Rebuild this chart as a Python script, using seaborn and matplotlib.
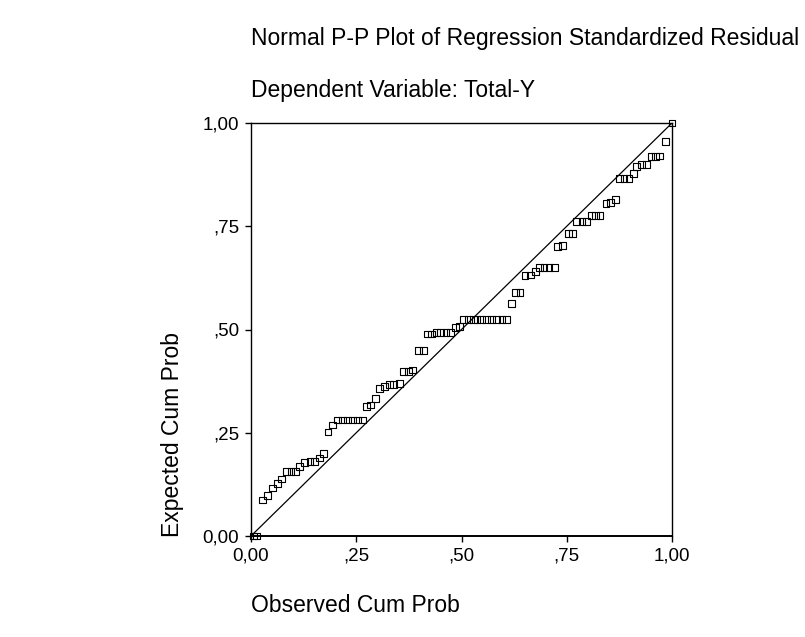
import matplotlib
matplotlib.use("Agg")
import matplotlib.pyplot as plt
import seaborn as sns
import pandas as pd

# observed vs expected cumulative probabilities
observed = [0.006, 0.014, 0.028, 0.040, 0.052, 0.062, 0.073, 0.085, 0.095, 0.105,
            0.116, 0.128, 0.140, 0.150, 0.162, 0.173, 0.183, 0.194, 0.205, 0.217,
            0.229, 0.241, 0.253, 0.265, 0.274, 0.284, 0.296, 0.306, 0.318, 0.329,
            0.339, 0.352, 0.363, 0.374, 0.384, 0.398, 0.410, 0.419, 0.429, 0.441,
            0.451, 0.463, 0.474, 0.485, 0.495, 0.505, 0.516, 0.528, 0.537, 0.548,
            0.560, 0.572, 0.584, 0.596, 0.607, 0.618, 0.629, 0.639, 0.651, 0.663,
            0.675, 0.685, 0.696, 0.708, 0.720, 0.728, 0.740, 0.754, 0.764, 0.774,
            0.786, 0.797, 0.809, 0.819, 0.829, 0.843, 0.854, 0.865, 0.875, 0.886,
            0.898, 0.908, 0.916, 0.928, 0.940, 0.950, 0.960, 0.970, 0.985, 1.000]
expected = [0.000, 0.000, 0.087, 0.099, 0.116, 0.128, 0.138, 0.156, 0.156, 0.156,
            0.168, 0.177, 0.180, 0.180, 0.189, 0.200, 0.252, 0.269, 0.281, 0.281,
            0.281, 0.281, 0.281, 0.281, 0.313, 0.317, 0.332, 0.357, 0.362, 0.366,
            0.366, 0.370, 0.398, 0.398, 0.402, 0.449, 0.449, 0.489, 0.489, 0.493,
            0.493, 0.493, 0.493, 0.505, 0.507, 0.525, 0.525, 0.525, 0.525, 0.525,
            0.525, 0.525, 0.525, 0.525, 0.525, 0.562, 0.590, 0.590, 0.630, 0.632,
            0.640, 0.651, 0.651, 0.651, 0.651, 0.700, 0.703, 0.733, 0.733, 0.761,
            0.761, 0.761, 0.777, 0.777, 0.777, 0.806, 0.807, 0.815, 0.866, 0.866,
            0.866, 0.878, 0.894, 0.900, 0.900, 0.918, 0.918, 0.920, 0.955, 1.000]

tick_vals = [0.0, 0.25, 0.5, 0.75, 1.0]
tick_labels = ["0,00", ",25", ",50", ",75", "1,00"]

df = pd.DataFrame({"Observed": observed, "Expected": expected})

sns.set_style("white")
plt.rcParams['font.family'] = ['Liberation Sans', 'DejaVu Sans']
plt.rcParams['text.color'] = 'black'
plt.rcParams['axes.labelcolor'] = 'black'

fig = plt.figure(figsize=(8.05, 6.37), dpi=100)
ax = fig.add_axes([251 / 805, 1 - 536 / 637, 421 / 805, 413 / 637])

ax.plot([0, 1], [0, 1], color='black', linewidth=0.9, zorder=2)
sns.scatterplot(data=df, x="Observed", y="Expected", marker='s', s=24,
                facecolor='none', edgecolor='black', linewidth=0.8,
                clip_on=False, zorder=3, ax=ax)

ax.set_xlim(0, 1)
ax.set_ylim(0, 1)
ax.set_xticks(tick_vals)
ax.set_xticklabels(tick_labels)
ax.set_yticks(tick_vals)
ax.set_yticklabels(tick_labels)
ax.tick_params(axis='both', direction='out', length=4.5, width=1, colors='black',
               labelsize=13.5, pad=4, bottom=True, left=True)
for side, spine in ax.spines.items():
    spine.set_color('black')
    spine.set_linewidth(1.0)
ax.spines['bottom'].set_linewidth(1.4)

ax.set_xlabel("")
ax.set_ylabel("")
fig.text(251 / 805, 1 - 39 / 637, "Normal P-P Plot of Regression Standardized Residual",
         fontsize=16.5, ha='left', va='center')
fig.text(251 / 805, 1 - 91 / 637, "Dependent Variable: Total-Y",
         fontsize=16.5, ha='left', va='center')
fig.text(251 / 805, 1 - 605 / 637, "Observed Cum Prob",
         fontsize=16.5, ha='left', va='center')
fig.text(172 / 805, 1 - 537 / 637, "Expected Cum Prob",
         fontsize=16.5, ha='center', va='bottom', rotation=90)

fig.savefig("out.png", dpi=100)
